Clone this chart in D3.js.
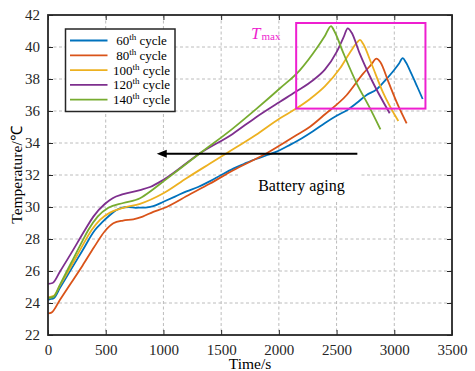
<!DOCTYPE html>
<html>
<head>
<meta charset="utf-8">
<script src="https://cdn.jsdelivr.net/npm/d3@7"></script>
<style>
    body { margin: 0; background: #fff; }
    svg { display: block; font-family: "Liberation Serif", "Times New Roman", serif; }
</style>
</head>
<body>
<div id="chart"></div>
<script>
// Temperature vs time for each ageing cycle
const seriesNames = ['60', '80', '100', '120', '140'];
const seriesColors = ['#0072BD', '#D95319', '#EDB120', '#7E2F8E', '#77AC30'];

const cycle60 = [
    [0, 24.2], [25, 24.25], [50, 24.3], [104, 24.95], [200, 26.1], [300, 27.3], [407, 28.56],
    [470, 29.05], [537, 29.5], [590, 29.8], [624, 29.92], [700, 30.0], [760, 29.95], [797, 29.96],
    [860, 29.98], [912, 30.05], [1000, 30.33], [1100, 30.65], [1200, 30.98], [1300, 31.25],
    [1400, 31.6], [1500, 32.0], [1605, 32.4], [1700, 32.7], [1800, 33.0], [1900, 33.25],
    [1981, 33.46], [2100, 33.9], [2200, 34.3], [2299, 34.75], [2400, 35.25], [2500, 35.7],
    [2600, 36.1], [2674, 36.5], [2760, 37.0], [2847, 37.35], [2920, 37.9], [2992, 38.5],
    [3040, 38.95], [3073, 39.3], [3100, 39.05], [3150, 38.3], [3200, 37.5], [3246, 36.75]
];
const cycle80 = [
    [0, 23.35], [30, 23.4], [104, 24.2], [200, 25.25], [300, 26.35], [400, 27.5], [494, 28.5],
    [566, 28.98], [650, 29.15], [739, 29.23], [820, 29.4], [912, 29.7], [1000, 29.92],
    [1230, 30.8], [1400, 31.45], [1605, 32.3], [1895, 33.36], [2154, 34.5], [2270, 35.02],
    [2400, 35.8], [2588, 37.0], [2732, 38.35], [2800, 38.9], [2845, 39.27], [2880, 39.05],
    [2950, 37.8], [3030, 36.4], [3107, 35.23]
];
const cycle100 = [
    [0, 24.35], [50, 24.45], [104, 25.1], [200, 26.3], [300, 27.6], [378, 28.56], [450, 29.2],
    [537, 29.65], [652, 29.95], [797, 30.2], [1000, 30.86], [1200, 31.8], [1400, 32.7],
    [1548, 33.36], [1800, 34.5], [2010, 35.55], [2150, 36.15], [2270, 36.75], [2400, 37.55],
    [2530, 38.67], [2620, 39.7], [2680, 40.3], [2703, 40.44], [2730, 40.2], [2800, 39.0],
    [2900, 37.2], [3035, 35.37]
];
const cycle120 = [
    [0, 25.2], [40, 25.25], [104, 25.97], [200, 27.1], [320, 28.56], [393, 29.4], [494, 30.2],
    [560, 30.55], [652, 30.8], [797, 31.06], [884, 31.25], [1000, 31.7], [1317, 33.36],
    [1600, 34.57], [1800, 35.6], [2010, 36.58], [2146, 37.2], [2299, 37.94], [2400, 38.6],
    [2501, 39.7], [2560, 40.6], [2597, 41.17], [2630, 40.9], [2700, 39.6], [2800, 38.0],
    [2960, 35.86]
];
const cycle140 = [
    [0, 24.3], [50, 24.4], [104, 25.15], [200, 26.5], [300, 27.9], [349, 28.56], [430, 29.4],
    [523, 29.95], [652, 30.25], [797, 30.55], [900, 31.05], [1000, 31.6], [1317, 33.36],
    [1600, 34.9], [1800, 36.1], [2010, 37.42], [2183, 38.56], [2328, 39.92], [2400, 40.7],
    [2452, 41.31], [2480, 41.0], [2560, 39.6], [2674, 37.73], [2780, 36.3], [2880, 34.85]
];
const allSeries = [cycle60, cycle80, cycle100, cycle120, cycle140];

const xTicks = [0, 500, 1000, 1500, 2000, 2500, 3000, 3500];
const yTicks = [22, 24, 26, 28, 30, 32, 34, 36, 38, 40, 42];

// annotations (data coordinates)
const tmaxBox = { x0: 2150, x1: 3270, y0: 36.15, y1: 41.5 };
const agingArrow = { from: 2680, to: 942, temp: 33.33 };

const width = 475, height = 371;
const margin = { top: 15, right: 23, bottom: 36, left: 48 };
const innerW = width - margin.left - margin.right;
const innerH = height - margin.top - margin.bottom;

const svg = d3.select('#chart').append('svg')
    .attr('width', width)
    .attr('height', height);

const g = svg.append('g')
    .attr('transform', `translate(${margin.left},${margin.top})`);

const x = d3.scaleLinear().domain([0, 3500]).range([0, innerW]);
const y = d3.scaleLinear().domain([22, 42]).range([innerH, 0]);

// grid
const grid = g.append('g').attr('class', 'grid');
grid.selectAll('.gx')
    .data(xTicks.slice(1, -1))
    .enter().append('line')
    .attr('x1', d => x(d)).attr('x2', d => x(d))
    .attr('y1', 0).attr('y2', innerH);
grid.selectAll('.gy')
    .data(yTicks.slice(1, -1))
    .enter().append('line')
    .attr('y1', d => y(d)).attr('y2', d => y(d))
    .attr('x1', 0).attr('x2', innerW);
grid.selectAll('line')
    .attr('stroke', '#bcbcbc')
    .attr('stroke-width', 1)
    .attr('stroke-dasharray', '3,2.5');

// white backdrop of the "Battery aging" label
g.append('rect')
    .attr('x', 192).attr('y', 157)
    .attr('width', 120).attr('height', 29)
    .attr('fill', '#fff');

// curves
const line = d3.line()
    .x(d => x(d[0]))
    .y(d => y(d[1]))
    .curve(d3.curveMonotoneX);

g.append('g').selectAll('path')
    .data(allSeries)
    .enter().append('path')
    .attr('d', line)
    .attr('fill', 'none')
    .attr('stroke', (d, i) => seriesColors[i])
    .attr('stroke-width', 1.8)
    .attr('stroke-linejoin', 'round');

// arrow
const ay = y(agingArrow.temp);
g.append('line')
    .attr('x1', x(agingArrow.from)).attr('x2', x(agingArrow.to) + 6)
    .attr('y1', ay).attr('y2', ay)
    .attr('stroke', '#000')
    .attr('stroke-width', 2);
g.append('path')
    .attr('d', `M${x(agingArrow.to)},${ay} L${x(agingArrow.to) + 10},${ay - 4} L${x(agingArrow.to) + 10},${ay + 4} Z`)
    .attr('fill', '#000');

g.append('text')
    .attr('x', 253.5).attr('y', 176)
    .attr('text-anchor', 'middle')
    .attr('font-size', '16px')
    .attr('fill', '#000')
    .text('Battery aging');

// axes (ticks inward on all four sides)
const axisStyle = sel => {
    sel.select('.domain').remove();
    sel.selectAll('.tick line').attr('stroke', '#262626').attr('stroke-width', 1);
    sel.selectAll('.tick text')
        .attr('font-family', '"Liberation Serif", "Times New Roman", serif')
        .attr('font-size', '15px')
        .attr('fill', '#262626');
};

g.append('g')
    .attr('transform', `translate(0,${innerH})`)
    .call(d3.axisBottom(x).tickValues(xTicks).tickSize(-5).tickPadding(9).tickFormat(d3.format('d')))
    .call(axisStyle);
g.append('g')
    .call(d3.axisTop(x).tickValues(xTicks).tickSize(-5).tickFormat(''))
    .call(axisStyle);
g.append('g')
    .call(d3.axisLeft(y).tickValues(yTicks).tickSize(-5).tickPadding(8))
    .call(axisStyle);
g.append('g')
    .attr('transform', `translate(${innerW},0)`)
    .call(d3.axisRight(y).tickValues(yTicks).tickSize(-5).tickFormat(''))
    .call(axisStyle);

g.append('rect')
    .attr('width', innerW).attr('height', innerH)
    .attr('fill', 'none')
    .attr('stroke', '#262626')
    .attr('stroke-width', 1.8);

// axis titles
svg.append('text')
    .attr('x', margin.left + innerW / 2).attr('y', 369)
    .attr('text-anchor', 'middle')
    .attr('font-size', '15.5px')
    .attr('fill', '#000')
    .text('Time/s');
svg.append('text')
    .attr('transform', `translate(22,${margin.top + innerH / 2}) rotate(-90)`)
    .attr('text-anchor', 'middle')
    .attr('font-size', '15.5px')
    .attr('fill', '#000')
    .text('Temperature/℃');

// T_max box
g.append('rect')
    .attr('x', x(tmaxBox.x0)).attr('y', y(tmaxBox.y1))
    .attr('width', x(tmaxBox.x1) - x(tmaxBox.x0))
    .attr('height', y(tmaxBox.y0) - y(tmaxBox.y1))
    .attr('fill', 'none')
    .attr('stroke', '#EE1FD0')
    .attr('stroke-width', 2);

const tmax = svg.append('text')
    .attr('x', 251).attr('y', 38.5)
    .attr('fill', '#EE1FD0');
tmax.append('tspan')
    .attr('font-style', 'italic')
    .attr('font-size', '17px')
    .text('T');
tmax.append('tspan')
    .attr('font-size', '11px')
    .attr('dy', 1.5)
    .attr('dx', 1)
    .text('max');

// legend
const legend = svg.append('g').attr('transform', 'translate(65.5,29)');
legend.append('rect')
    .attr('width', 109.5).attr('height', 82.5)
    .attr('fill', '#fff')
    .attr('stroke', '#262626')
    .attr('stroke-width', 1.5);

const entry = legend.selectAll('.legend-item')
    .data(seriesNames)
    .enter().append('g')
    .attr('class', 'legend-item')
    .attr('transform', (d, i) => `translate(0,${11.5 + i * 14.8})`);

entry.append('line')
    .attr('x1', 4.5).attr('x2', 42)
    .attr('stroke', (d, i) => seriesColors[i])
    .attr('stroke-width', 1.8);

const label = entry.append('text')
    .attr('x', 76)
    .attr('y', 4.5)
    .attr('text-anchor', 'middle')
    .attr('font-size', '13px')
    .attr('fill', '#000');
label.append('tspan').text(d => d);
label.append('tspan').attr('dy', -5).attr('font-size', '9px').text('th');
label.append('tspan').attr('dy', 5).text(' cycle');
</script>
</body>
</html>
